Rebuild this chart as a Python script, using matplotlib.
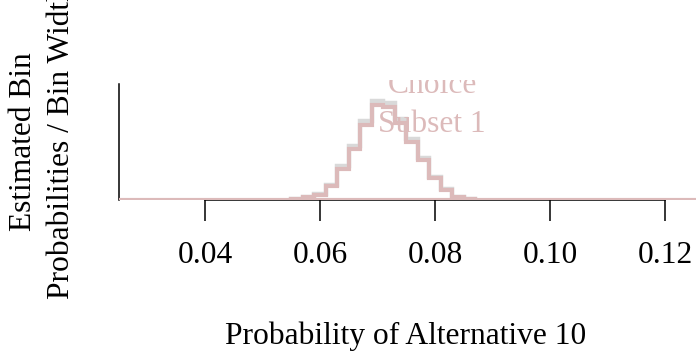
import matplotlib
matplotlib.use("Agg")
import matplotlib.pyplot as plt

# histogram data (density = bin probability / bin width)
bin_edges = [0.055, 0.057, 0.059, 0.061, 0.063, 0.065, 0.067, 0.069, 0.071,
             0.073, 0.075, 0.077, 0.079, 0.081, 0.083, 0.085, 0.087]
dens_subset = [1, 2.5, 4.5, 12, 27, 44, 65, 82, 80, 66.5, 50, 34.5, 19, 8.5, 2.5, 1]
dens_all = [1, 3, 5, 13, 29.5, 47, 68, 85.5, 84, 69.5, 52.5, 36, 20, 9.5, 3, 1]
xticks = [0.04, 0.06, 0.08, 0.10, 0.12]
xtick_labels = ["0.04", "0.06", "0.08", "0.10", "0.12"]

PINK = "#dcbaba"
GREY = "#d9d9d9"
W, H = 696, 356

plt.rcParams["font.family"] = ["Liberation Serif", "DejaVu Serif"]
FS = 22.7

fig = plt.figure(figsize=(W / 100, H / 100), dpi=100)
ax = fig.add_axes([118.75 / W, (H - 200) / H, (W - 118.75) / W, 120 / H])

ax.stairs(dens_all, bin_edges, color=GREY, lw=3.2, baseline=0, zorder=2)
ax.axhline(0, color=PINK, lw=3.0, zorder=3)
ax.stairs(dens_subset, bin_edges, color=PINK, lw=3.0, baseline=0, zorder=4)

ax.set_xlim(0.025, 0.1254)
ax.set_ylim(0, 103.6)

for s in ("top", "right"):
    ax.spines[s].set_visible(False)
ax.spines["left"].set_bounds(0, 100)
ax.spines["bottom"].set_bounds(xticks[0], xticks[-1])
ax.spines["left"].set_linewidth(1.1)
ax.spines["bottom"].set_linewidth(1.1)
ax.spines["bottom"].set_zorder(1)

ax.set_yticks([])
ax.set_xticks(xticks)
ax.set_xticklabels(xtick_labels, fontsize=FS)
ax.tick_params(axis="x", direction="out", length=15, width=1.1, pad=14.4)

# subset label, clipped at the top of the plot region
ax.text(0.0795, 92.4, "Choice", color=PINK, fontsize=FS, ha="center",
        va="baseline", clip_on=True, zorder=5)
ax.text(0.0795, 58.7, "Subset 1", color=PINK, fontsize=FS, ha="center",
        va="baseline", clip_on=True, zorder=5)

fig.text(406 / W, 12 / H, "Probability of Alternative 10", fontsize=FS,
         ha="center", va="baseline")
fig.text(24 / W, (H - 142) / H, "Estimated Bin", fontsize=FS,
         rotation=90, ha="center", va="center")
fig.text(62 / W, (H - 142) / H, "Probabilities / Bin Width", fontsize=FS,
         rotation=90, ha="center", va="center")

fig.savefig("out.png", dpi=100)
